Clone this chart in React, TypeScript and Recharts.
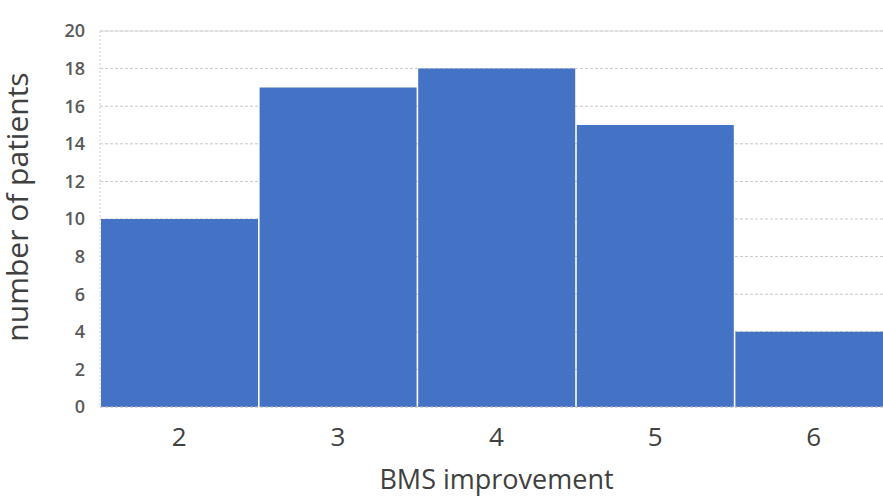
import React from "react";
import { BarChart, Bar, XAxis, YAxis, CartesianGrid, ReferenceLine } from "recharts";

// BMS improvement score categories and patient counts
const improvement = ["2", "3", "4", "5", "6"];
const patients = [10, 17, 18, 15, 4];
const yTicks = [0, 2, 4, 6, 8, 10, 12, 14, 16, 18, 20];

const rows = improvement.map((score, i) => ({ score, patients: patients[i] }));

const FONT = "'Open Sans', 'Noto Sans', sans-serif";

export default function App() {
  return (
    <div
      style={{
        position: "absolute",
        left: 0,
        top: 0,
        width: 883,
        height: 497,
        overflow: "hidden",
        background: "#fff",
      }}
    >
      <BarChart
        width={893}
        height={497}
        data={rows}
        margin={{ top: 31, right: 0, bottom: 0, left: 0 }}
        barCategoryGap={1}
      >
        <CartesianGrid
          horizontal
          vertical={false}
          stroke="#c8c8c8"
          strokeDasharray="3 2"
        />
        <XAxis
          dataKey="score"
          height={90}
          axisLine={{ stroke: "#c8c8c8", strokeDasharray: "3 2" }}
          tickLine={false}
          tickSize={0}
          tickMargin={21}
          tick={{ fill: "#404040", fontSize: 26, fontFamily: FONT }}
          label={{
            value: "BMS improvement",
            position: "insideBottom",
            offset: 8,
            style: { fill: "#404040", fontSize: 27, fontFamily: FONT },
          }}
        />
        <YAxis
          width={100}
          domain={[0, 20]}
          ticks={yTicks}
          interval={0}
          axisLine={{ stroke: "#d0d0d0", strokeDasharray: "2 2" }}
          tickLine={false}
          tickSize={0}
          tickMargin={15}
          tick={{ fill: "#595959", fontSize: 18, fontFamily: FONT, fontWeight: 600 }}
          label={{
            value: "number of patients",
            angle: -90,
            position: "insideLeft",
            offset: 17,
            dy: -12,
            style: { fill: "#404040", fontSize: 30, fontFamily: FONT, textAnchor: "middle" },
          }}
        />
        <ReferenceLine y={20} stroke="#d9d9d9" strokeDasharray="0" />
        <Bar dataKey="patients" fill="#4472C4" isAnimationActive={false} />
      </BarChart>
    </div>
  );
}
